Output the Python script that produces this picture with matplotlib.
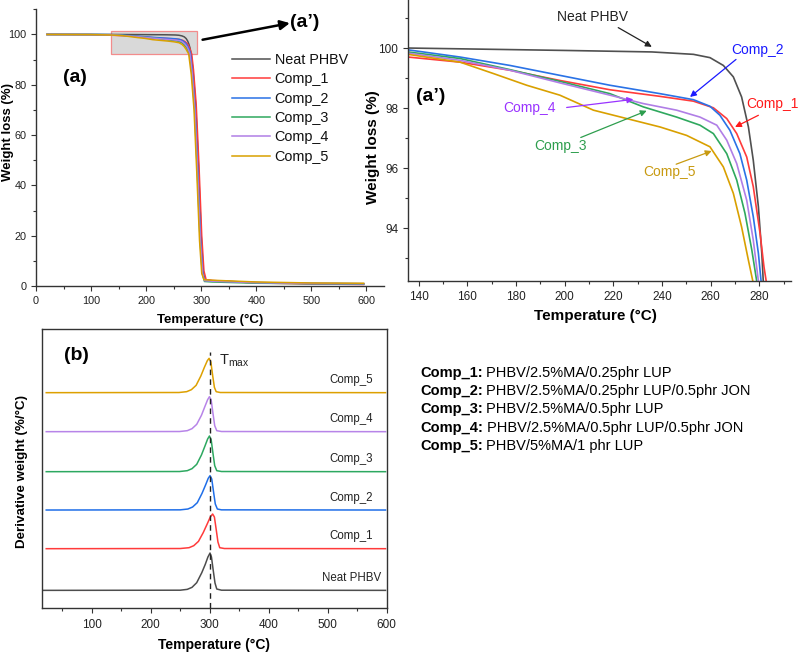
import matplotlib
matplotlib.use("Agg")
import matplotlib.pyplot as plt
from matplotlib.patches import Rectangle
from matplotlib.ticker import MultipleLocator

plt.rcParams['font.family'] = ['Liberation Sans', 'DejaVu Sans']
plt.rcParams['mathtext.fontset'] = 'custom'
plt.rcParams['mathtext.rm'] = 'Liberation Sans'

# ---------------- data ----------------
series_names = ['Neat PHBV', 'Comp_1', 'Comp_2', 'Comp_3', 'Comp_4', 'Comp_5']
tga_colors = ['#505050', '#ff3b3b', '#2a72e6', '#2fa85e', '#b07ee6', '#d9a000']

# TGA curves (temperature in C, weight %)
neat_T = [20, 60, 100, 135.6, 160, 200, 235.8, 252.9, 259.7, 265.2, 269.3, 272.7, 275.5, 277.5,
          279.6, 281, 281.6, 285, 290, 295, 300, 304, 307, 320, 400, 500, 595]
neat_W = [100, 100, 100, 100.0, 99.97, 99.92, 99.87, 99.79, 99.68, 99.42, 99.04, 98.37, 97.37, 96.26,
          94.71, 93.16, 92.24, 86, 72, 48, 20, 5, 2.4, 2.1, 1.4, 1.0, 0.9]

c1_T = [20, 100, 135.6, 157, 177.5, 198, 218.6, 239.2, 252.9, 261.1, 266.6, 270.7, 274.8, 277.5,
        280.3, 281.9, 282.8, 286, 291, 296, 301, 305, 309, 320, 400, 500, 595]
c1_W = [100, 99.9, 99.70, 99.53, 99.26, 98.92, 98.61, 98.39, 98.23, 98.01, 97.65, 97.15, 96.37, 95.38,
        93.82, 92.71, 92.24, 86, 72, 48, 20, 6, 2.5, 2.2, 1.2, 0.8, 0.6]

c2_T = [20, 100, 135.6, 157, 177.5, 198, 218.6, 239.2, 252.9, 259.7, 263.8, 267.9, 272, 274.8,
        277.5, 279.6, 280.7, 284, 289, 294, 299, 303, 306, 320, 400, 500, 595]
c2_W = [100, 99.98, 99.94, 99.70, 99.42, 99.09, 98.76, 98.48, 98.28, 98.06, 97.76, 97.26, 96.48, 95.6,
        94.38, 93.16, 92.24, 85, 70, 45, 18, 5, 2.3, 2.0, 1.3, 1.0, 0.9]

c3_T = [20, 100, 135.6, 157, 177.5, 198, 218.6, 232.3, 246, 255.6, 261.1, 266.6, 270.7, 274.1,
        276.9, 278.9, 283, 288, 293, 298, 302, 306, 320, 400, 500, 595]
c3_W = [100, 99.97, 99.87, 99.65, 99.28, 98.89, 98.48, 98.04, 97.70, 97.43, 97.15, 96.48, 95.6, 94.49,
        93.27, 92.24, 85, 70, 45, 18, 5, 1.8, 1.6, 1.1, 0.9, 0.8]

c4_T = [20, 100, 135.6, 157, 177.5, 198, 218.6, 232.3, 246, 255.6, 262.5, 266.6, 270.7, 274.8,
        277.5, 279.6, 283.5, 288.5, 293.5, 298.5, 302.5, 306, 320, 400, 500, 595]
c4_W = [100, 99.97, 99.83, 99.59, 99.26, 98.84, 98.43, 98.15, 97.93, 97.70, 97.43, 96.93, 96.15, 94.93,
        93.60, 92.24, 85, 70, 45, 18, 5, 2.1, 1.9, 1.3, 1.0, 0.9]

c5_T = [20, 100, 135.6, 157, 170.7, 184.4, 198, 211.8, 225.5, 239.2, 250.1, 259.7, 265.2, 269.3,
        272.7, 275.5, 277.3, 282, 287, 292, 297, 301, 305, 320, 400, 500, 595]
c5_W = [100, 99.95, 99.79, 99.53, 99.15, 98.76, 98.43, 97.93, 97.65, 97.37, 97.09, 96.71, 96.04, 95.16,
        94.04, 92.93, 92.24, 84, 70, 45, 18, 5, 2.5, 2.3, 1.6, 1.2, 1.1]

tga_T = [neat_T, c1_T, c2_T, c3_T, c4_T, c5_T]
tga_W = [neat_W, c1_W, c2_W, c3_W, c4_W, c5_W]

# DTG curves (temperature in C, derivative weight above each baseline, arb. units)
dneat_T = [18, 250, 262, 270, 278, 286.6, 292.5, 297, 300.6, 303, 306, 309, 312, 320, 598]
dneat_D = [0, 0.005, 0.03, 0.09, 0.23, 0.53, 0.78, 1.00, 1.12, 1.00, 0.60, 0.22, 0.04, 0.005, 0]
d1_T = [23, 250, 265, 273, 281, 289, 296, 301, 305, 308, 311, 314, 317, 325, 598]
d1_D = [0, 0.005, 0.03, 0.09, 0.22, 0.48, 0.75, 0.95, 1.04, 0.95, 0.58, 0.20, 0.03, 0.005, 0]
d2_T = [23, 250, 263, 271, 279, 287, 293, 297.5, 300.6, 303.5, 306.5, 309.5, 313, 320, 598]
d2_D = [0, 0.005, 0.03, 0.09, 0.22, 0.50, 0.75, 0.95, 1.03, 0.93, 0.55, 0.18, 0.03, 0.005, 0]
d3_T = [23, 249, 262, 270, 278, 286, 292, 296.5, 299.6, 302.5, 305.5, 308.5, 312, 320, 598]
d3_D = [0, 0.005, 0.03, 0.09, 0.22, 0.50, 0.77, 0.98, 1.07, 0.96, 0.56, 0.18, 0.03, 0.005, 0]
d4_T = [23, 249, 262, 270, 278, 286, 292, 296.5, 299.6, 302.5, 305.5, 308.5, 312, 320, 598]
d4_D = [0, 0.005, 0.03, 0.09, 0.22, 0.49, 0.76, 0.96, 1.05, 0.95, 0.56, 0.18, 0.03, 0.005, 0]
d5_T = [23, 248, 261, 269, 277, 285, 291, 296, 299, 302, 305, 308, 311, 318, 598]
d5_D = [0, 0.005, 0.03, 0.09, 0.22, 0.50, 0.76, 0.96, 1.03, 0.92, 0.52, 0.16, 0.03, 0.005, 0]

dtg_T = [dneat_T, d1_T, d2_T, d3_T, d4_T, d5_T]
dtg_D = [dneat_D, d1_D, d2_D, d3_D, d4_D, d5_D]
dtg_colors = ['#4d4d4d', '#ff3b3b', '#1f6ee8', '#2da860', '#b784e8', '#dda000']
tmax = 300

comp_codes = ['Comp_1:', 'Comp_2:', 'Comp_3:', 'Comp_4:', 'Comp_5:']
comp_desc = ['PHBV/2.5%MA/0.25phr LUP', 'PHBV/2.5%MA/0.25phr LUP/0.5phr JON',
             'PHBV/2.5%MA/0.5phr LUP', 'PHBV/2.5%MA/0.5phr LUP/0.5phr JON',
             'PHBV/5%MA/1 phr LUP']

# ---------------- figure ----------------
W, H = 800, 654
fig = plt.figure(figsize=(W / 100, H / 100), dpi=100)


def box(l, t, r, b):
    return [l / W, 1 - b / H, (r - l) / W, (b - t) / H]


spine_c = '#333333'


def style_axes(ax, size):
    for s in ['top', 'right']:
        ax.spines[s].set_visible(False)
    for s in ['left', 'bottom']:
        ax.spines[s].set_color(spine_c)
        ax.spines[s].set_linewidth(1.0)
    ax.tick_params(which='major', direction='out', length=3.5, width=0.8, color=spine_c,
                   labelsize=size, pad=3.5, labelcolor='#222222')
    ax.tick_params(which='minor', direction='out', length=2.2, width=0.8, color=spine_c)


# ---- panel (a) ----
axa = fig.add_axes(box(36, 9.3, 384, 286))
for name, T, Wt, c in zip(series_names, tga_T, tga_W, tga_colors):
    axa.plot(T, Wt, color=c, lw=1.1, label=name)
axa.set_xlim(0, 632)
axa.set_ylim(0, 110)
axa.xaxis.set_major_locator(MultipleLocator(100))
axa.xaxis.set_minor_locator(MultipleLocator(50))
axa.set_yticks([0, 20, 40, 60, 80, 100])
axa.yaxis.set_minor_locator(MultipleLocator(10))
style_axes(axa, 7.8)
axa.add_patch(Rectangle((135.5, 92.3), 293 - 135.5, 101.4 - 92.3, facecolor='#d9d9d9',
                        edgecolor='#f28c8c', lw=0.9, zorder=0.5))
axa.set_xlabel('Temperature (°C)', fontsize=9.5, fontweight='bold', va='center')
axa.set_ylabel('Weight loss (%)', fontsize=9.5, fontweight='bold', va='center')
axa.xaxis.set_label_coords(0.5, -0.123)
axa.yaxis.set_label_coords(-0.08, 0.555)
axa.text(70.8, 83, '(a)', fontsize=14, fontweight='bold', ha='center', va='center')
axa.annotate('', xy=(461, 104.5), xytext=(302.5, 97.9), annotation_clip=False,
             arrowprops=dict(arrowstyle='-|>', lw=1.8, color='black', mutation_scale=14,
                             shrinkA=0, shrinkB=0))
axa.text(488, 104.9, '(a’)', fontsize=14, fontweight='bold', ha='center', va='center')
leg = axa.legend(loc='upper left', bbox_to_anchor=(232 / W, 1 - 53 / H),
                 bbox_transform=fig.transFigure, frameon=False, fontsize=10.4,
                 handlelength=2.6, handletextpad=0.35, labelspacing=0.37,
                 borderpad=0, borderaxespad=0)
for t in leg.get_texts():
    t.set_color('#111111')

# ---- panel (a') ----
axi = fig.add_axes(box(408, 0, 791, 281))
for name, T, Wt, c in zip(series_names, tga_T, tga_W, tga_colors):
    axi.plot(T, Wt, color=c, lw=1.2)
axi.set_xlim(135.6, 293)
axi.set_ylim(92.24, 101.6)
axi.xaxis.set_major_locator(MultipleLocator(20))
axi.xaxis.set_minor_locator(MultipleLocator(10))
axi.set_yticks([94, 96, 98, 100])
axi.yaxis.set_minor_locator(MultipleLocator(1))
style_axes(axi, 8.5)
axi.set_xlabel('Temperature (°C)', fontsize=11, fontweight='bold', va='center')
axi.set_ylabel('Weight loss (%)', fontsize=11, fontweight='bold', va='center')
axi.xaxis.set_label_coords(0.49, -0.1235)
axi.yaxis.set_label_coords(-0.0906, 0.475)
axi.text(144.8, 98.37, '(a’)', fontsize=14, fontweight='bold', ha='center', va='center')

inset_notes = [
    ('Neat PHBV', '#222222', (211.6, 101.02), 'center', (222.0, 100.68), (235.8, 100.04)),
    ('Comp_2', '#1a1aff', (279.1, 99.95), 'center', (270.4, 99.62), (251.5, 98.37)),
    ('Comp_1', '#ff1a1a', (274.6, 98.13), 'left', (279.6, 97.76), (270.0, 97.37)),
    ('Comp_4', '#9933ff', (185.7, 98.01), 'center', (200.8, 98.02), (228.2, 98.29)),
    ('Comp_3', '#2e9e4e', (198.1, 96.73), 'center', (206.6, 97.02), (233.7, 97.91)),
    ('Comp_5', '#c89a10', (243.1, 95.86), 'center', (245.8, 96.13), (260.4, 96.57)),
]
for label, col, pos, ha, tail, head in inset_notes:
    axi.text(pos[0], pos[1], label, color=col, fontsize=10, ha=ha, va='center', clip_on=False)
    axi.annotate('', xy=head, xytext=tail,
                 arrowprops=dict(arrowstyle='-|>', lw=0.9, color=col, mutation_scale=9,
                                 shrinkA=0, shrinkB=0))

# ---- panel (b) ----
axb = fig.add_axes(box(41.7, 329, 386.7, 607.7))
baselines = [0.52, 1.77, 2.93, 4.08, 5.28, 6.45]
for name, T, D, c, b0 in zip(series_names, dtg_T, dtg_D, dtg_colors, baselines):
    axb.plot(T, [b0 + d for d in D], color=c, lw=1.1)
    axb.text(540, b0 + 0.37, name, fontsize=8.3, ha='center', va='center', color='#222222')
axb.set_xlim(15.3, 600)
axb.set_ylim(0, 8.36)
axb.plot([tmax, tmax], [0, 7.68], ls=(0, (4, 3)), color='#222222', lw=1.0)
axb.text(315.8, 7.3, r'T$_{\rm max}$', fontsize=10.5, ha='left', va='baseline', color='#222222')
axb.set_xticks([100, 200, 300, 400, 500, 600])
axb.xaxis.set_minor_locator(MultipleLocator(50))
axb.set_yticks([])
for s in ['top', 'right', 'left', 'bottom']:
    axb.spines[s].set_color(spine_c)
    axb.spines[s].set_linewidth(1.0)
axb.tick_params(which='major', direction='out', length=3.5, width=0.8, color=spine_c,
                labelsize=8.5, pad=4.5, labelcolor='#222222')
axb.tick_params(which='minor', direction='out', length=2.2, width=0.8, color=spine_c)
axb.set_xlabel('Temperature (°C)', fontsize=10, fontweight='bold', va='center')
axb.set_ylabel('Derivative weight (%/°C)', fontsize=9.6, fontweight='bold', va='center')
axb.xaxis.set_label_coords(0.4986, -0.134)
axb.yaxis.set_label_coords(-0.058, 0.488)
axb.text(0.10, 0.905, '(b)', transform=axb.transAxes, fontsize=14, fontweight='bold',
         ha='center', va='center')

# ---- composition key ----
fig.canvas.draw()
renderer = fig.canvas.get_renderer()
y0 = 373.3
for i, (code, desc) in enumerate(zip(comp_codes, comp_desc)):
    yc = 1 - (y0 + 18.1 * i) / H
    t1 = fig.text(420.7 / W, yc, code, fontsize=10.5, fontweight='bold', ha='left', va='center')
    bb = t1.get_window_extent(renderer)
    fig.text((bb.x1 + 3) / W, yc, desc, fontsize=10.5, ha='left', va='center')

fig.savefig('out.png', dpi=100)
